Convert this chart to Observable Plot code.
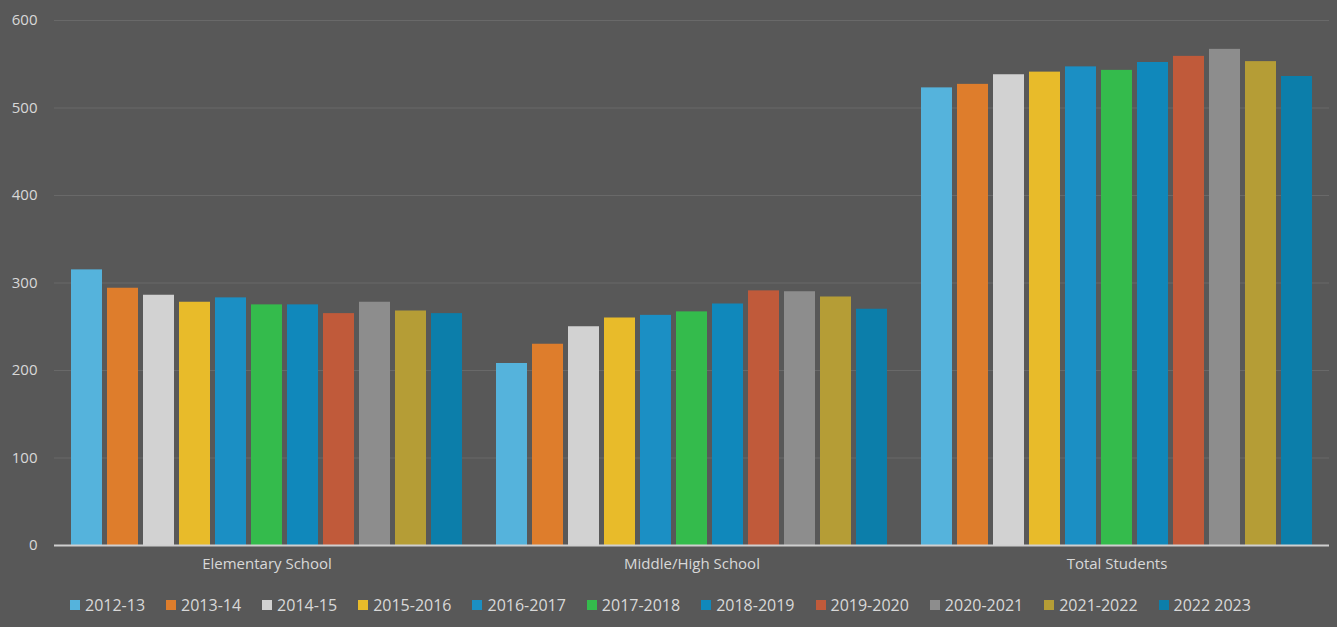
<!DOCTYPE html>
<html>
<head>
<meta charset="utf-8">
<script src="https://cdn.jsdelivr.net/npm/d3@7"></script>
<script src="https://cdn.jsdelivr.net/npm/@observablehq/plot@0.6"></script>
<style>
  html, body { margin: 0; padding: 0; background: #585858; }
  #chart { width: 1337px; height: 627px; background: #585858; overflow: hidden; }
  #legend { display: flex; align-items: center; padding-left: 70px; height: 30px; margin-top: 5px;
            font-family: "Open Sans", sans-serif; font-size: 16px; color: #d8d8d8; }
  #legend .item { display: flex; align-items: center; margin-right: 21px; }
  #legend .sw { width: 10px; height: 10px; margin-right: 5px; }
</style>
</head>
<body>
<div id="chart"></div>
<script>
const groups = ["Elementary School", "Middle/High School", "Total Students"];
const years = ["2012-13", "2013-14", "2014-15", "2015-2016", "2016-2017", "2017-2018",
               "2018-2019", "2019-2020", "2020-2021", "2021-2022", "2022 2023"];
const elementary = [315, 294, 286, 278, 283, 275, 275, 265, 278, 268, 265];
const middleHigh = [208, 230, 250, 260, 263, 267, 276, 291, 290, 284, 270];
const totalStudents = [523, 527, 538, 541, 547, 543, 552, 559, 567, 553, 536];
const yTicks = [0, 100, 200, 300, 400, 500, 600];
const colors = ["#55b3dc", "#de7d2c", "#d2d2d2", "#e8bb2a", "#1b8fc4", "#34bb4c",
                "#1088bb", "#c05a3a", "#8d8d8d", "#b59d36", "#0c7eaa"];

const series = [elementary, middleHigh, totalStudents];
const data = [];
groups.forEach((g, gi) => years.forEach((yr, i) => data.push({group: g, year: yr, value: series[gi][i]})));

const plot = Plot.plot({
  width: 1337,
  height: 585,
  marginLeft: 53,
  marginRight: 8,
  marginTop: 20,
  marginBottom: 40,
  style: {background: "transparent", color: "#d8d8d8", fontFamily: "'Open Sans', sans-serif", fontSize: "15px"},
  fx: {domain: groups, paddingInner: 0, paddingOuter: 0, label: null, axis: "bottom", tickSize: 0, tickPadding: 13},
  x: {domain: years, axis: null, paddingInner: 0.13, paddingOuter: 0.32},
  y: {domain: [0, 600], ticks: yTicks, label: null, tickSize: 0, tickPadding: 17},
  color: {domain: years, range: colors},
  marks: [
    Plot.gridY(yTicks.filter(d => d > 0), {stroke: "#9a9a9a", strokeOpacity: 0.25, strokeWidth: 1}),
    Plot.barY(data, {fx: "group", x: "year", y: "value", fill: "year"}),
    Plot.ruleY([0], {stroke: "#cfcfcf", strokeWidth: 2})
  ]
});
document.getElementById("chart").appendChild(plot);

const legend = document.createElement("div");
legend.id = "legend";
years.forEach((yr, i) => {
  const it = document.createElement("div");
  it.className = "item";
  const sw = document.createElement("span");
  sw.className = "sw";
  sw.style.background = colors[i];
  const tx = document.createElement("span");
  tx.textContent = yr;
  it.appendChild(sw);
  it.appendChild(tx);
  legend.appendChild(it);
});
document.getElementById("chart").appendChild(legend);
</script>
</body>
</html>
